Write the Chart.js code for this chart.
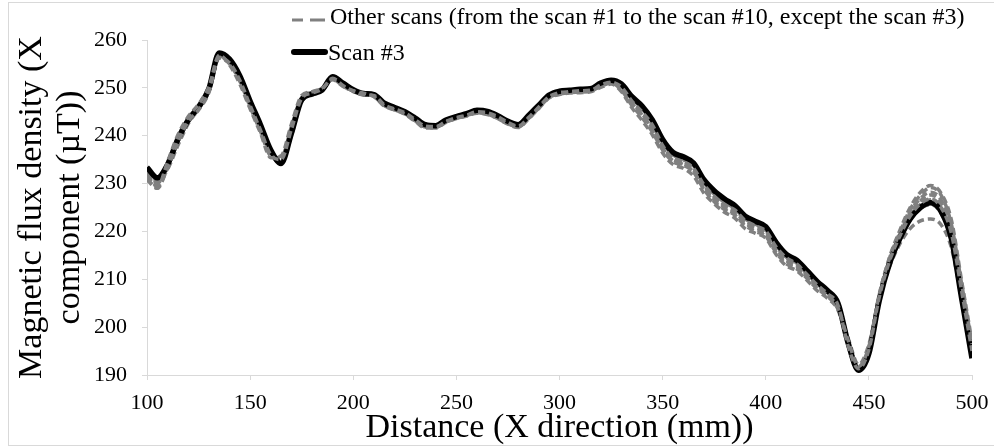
<!DOCTYPE html>
<html>
<head>
<meta charset="utf-8">
<title>Magnetic flux density scans</title>
<script src="https://cdn.jsdelivr.net/npm/chart.js@4.4.1/dist/chart.umd.min.js"></script>
<style>
  html, body { margin: 0; padding: 0; background: #fff; }
  #wrap { width: 994px; height: 448px; }
</style>
</head>
<body>
<div id="wrap"><canvas id="scanChart" width="994" height="448"></canvas></div>
<script>
// distance along the X direction (mm), one reading every 5 mm
const distance = [];
for (let d = 100; d <= 500; d += 5) distance.push(d);

const yTicks = [190, 200, 210, 220, 230, 240, 250, 260];
const xTicks = [100, 150, 200, 250, 300, 350, 400, 450, 500];

// X component of the flux density (µT)
const scan3 = [
  233.4, 231.2, 234.0, 239.3, 243.3, 246.0, 249.8, 257.3, 256.0, 252.5,
  247.2, 242.3, 237.0, 234.2, 240.5, 247.5, 248.7, 249.6, 252.3, 251.0,
  249.6, 248.8, 248.6, 246.8, 245.9, 245.0, 243.7, 242.3, 242.1, 243.3,
  244.0, 244.6, 245.3, 245.1, 244.2, 243.0, 242.3, 244.2, 246.4, 248.5,
  249.3, 249.5, 249.7, 249.8, 251.0, 251.6, 250.8, 248.2, 246.2, 243.3,
  239.2, 236.5, 235.6, 234.3, 230.8, 228.5, 226.8, 225.4, 223.2, 222.1,
  221.0, 217.7, 215.2, 214.0, 211.8, 209.5, 207.6, 205.0, 196.6, 191.0,
  194.5, 205.5, 213.3, 218.5, 222.6, 225.0, 226.0, 224.2, 218.5, 206.0,
  193.5
];
const scan1 = [
  231.8, 229.6, 233.2, 238.6, 243.0, 245.4, 249.0, 256.4, 255.2, 251.6,
  246.3, 241.2, 236.0, 235.0, 241.3, 247.8, 248.9, 249.8, 252.0, 250.5,
  249.3, 248.5, 248.4, 246.5, 245.6, 244.8, 243.4, 242.0, 241.9, 243.0,
  243.8, 244.3, 245.0, 244.8, 244.0, 242.8, 242.0, 243.8, 246.0, 248.2,
  249.0, 249.2, 249.4, 249.5, 250.6, 251.2, 250.2, 247.3, 245.0, 242.3,
  238.0, 235.2, 234.6, 233.2, 229.8, 227.4, 225.6, 224.5, 222.3, 221.2,
  220.1, 216.8, 214.5, 213.2, 211.0, 208.8, 207.0, 204.6, 196.0, 191.3,
  195.3, 206.2, 213.8, 219.0, 223.2, 225.8, 226.8, 225.0, 219.6, 207.5,
  195.0
];
const scan2 = [
  231.0, 229.2, 234.6, 240.2, 244.0, 246.6, 250.2, 256.8, 254.8, 250.8,
  245.6, 240.6, 235.4, 235.8, 242.4, 248.4, 249.2, 250.0, 251.7, 250.3,
  249.4, 248.9, 248.2, 246.2, 245.4, 244.5, 243.0, 241.6, 241.7, 242.9,
  243.6, 244.2, 244.8, 244.5, 243.6, 242.5, 241.8, 243.6, 245.8, 248.0,
  248.7, 249.0, 249.1, 249.3, 250.3, 251.0, 249.5, 246.4, 243.8, 240.8,
  237.0, 234.6, 233.8, 232.5, 229.0, 226.6, 225.0, 223.6, 221.6, 220.5,
  219.4, 216.0, 213.8, 212.6, 210.6, 208.3, 206.6, 204.0, 197.2, 191.8,
  196.0, 206.8, 214.4, 219.8, 224.6, 227.6, 229.2, 227.6, 221.5, 209.0,
  196.5
];
const scan4 = [
  232.4, 230.2, 233.0, 238.0, 242.5, 245.6, 249.2, 256.6, 255.7, 252.0,
  246.8, 241.6, 236.4, 234.2, 240.0, 247.2, 248.5, 249.4, 252.0, 250.8,
  249.5, 248.7, 248.5, 246.6, 245.7, 244.8, 243.5, 242.1, 242.0, 243.1,
  243.9, 244.4, 245.1, 244.9, 244.0, 242.8, 242.1, 244.0, 246.2, 248.3,
  249.1, 249.3, 249.5, 249.6, 250.8, 251.4, 250.5, 247.8, 245.7, 242.8,
  238.6, 236.0, 235.0, 233.7, 230.2, 227.8, 226.1, 224.8, 222.6, 221.5,
  220.3, 217.1, 214.6, 213.4, 211.2, 209.0, 207.2, 204.8, 196.2, 191.2,
  195.0, 205.8, 213.5, 218.8, 222.8, 225.2, 226.3, 224.5, 218.8, 206.8,
  194.2
];
const scan5 = [
  232.0, 230.0, 234.2, 239.6, 243.6, 246.3, 249.9, 256.8, 255.4, 251.8,
  246.5, 241.4, 236.2, 235.2, 241.6, 247.9, 249.0, 249.9, 251.9, 250.6,
  249.5, 248.6, 248.3, 246.4, 245.5, 244.6, 243.2, 241.8, 241.8, 243.0,
  243.7, 244.2, 244.9, 244.6, 243.8, 242.6, 241.9, 243.7, 245.9, 248.1,
  248.8, 249.1, 249.2, 249.4, 250.4, 251.1, 249.8, 246.8, 244.4, 241.4,
  237.4, 234.8, 234.0, 232.4, 228.8, 226.2, 224.6, 223.4, 221.2, 220.0,
  219.0, 215.6, 213.2, 212.2, 210.2, 208.0, 206.4, 203.8, 197.6, 192.2,
  196.4, 206.0, 212.6, 217.4, 220.6, 222.2, 222.6, 221.4, 216.6, 205.8,
  194.6
];
const scan6 = [
  232.8, 230.6, 233.6, 238.9, 243.1, 245.8, 249.4, 257.0, 255.8, 252.2,
  247.0, 241.8, 236.6, 234.6, 240.9, 247.6, 248.8, 249.7, 252.1, 250.9,
  249.6, 248.8, 248.5, 246.7, 245.8, 244.9, 243.6, 242.2, 242.0, 243.2,
  243.9, 244.5, 245.2, 245.0, 244.1, 242.9, 242.2, 244.1, 246.3, 248.4,
  249.2, 249.4, 249.6, 249.7, 250.9, 251.5, 250.6, 247.9, 245.8, 242.9,
  238.8, 236.2, 235.3, 233.9, 230.4, 228.0, 226.4, 225.0, 222.8, 221.7,
  220.6, 217.3, 214.9, 213.6, 211.4, 209.2, 207.4, 205.0, 196.4, 191.0,
  195.2, 206.6, 214.6, 220.2, 225.0, 228.2, 229.6, 228.0, 222.4, 209.6,
  197.0
];
const scan7 = [
  231.6, 229.4, 233.8, 239.0, 242.8, 245.6, 249.3, 256.2, 255.0, 251.4,
  246.0, 240.9, 235.8, 235.4, 241.9, 248.0, 249.0, 249.9, 251.8, 250.4,
  249.2, 248.6, 248.2, 246.3, 245.4, 244.6, 243.1, 241.8, 241.6, 242.8,
  243.6, 244.1, 244.7, 244.4, 243.6, 242.4, 241.7, 243.5, 245.7, 247.9,
  248.6, 248.9, 249.0, 249.2, 250.1, 250.8, 249.2, 245.9, 243.2, 240.2,
  236.4, 234.0, 233.2, 231.6, 228.0, 225.8, 224.0, 222.8, 220.6, 219.6,
  218.6, 215.2, 212.8, 211.8, 209.8, 207.6, 206.0, 203.6, 196.8, 191.6,
  195.6, 206.2, 213.9, 219.2, 223.6, 226.4, 227.6, 226.0, 220.4, 208.2,
  195.6
];
const scan8 = [
  232.6, 230.8, 234.4, 239.8, 243.5, 246.2, 249.8, 257.1, 255.8, 252.1,
  246.9, 241.9, 236.7, 234.4, 240.4, 247.4, 248.6, 249.5, 252.0, 250.8,
  249.5, 248.7, 248.6, 246.7, 245.8, 244.9, 243.6, 242.2, 242.0, 243.2,
  243.9, 244.5, 245.2, 245.0, 244.1, 242.9, 242.2, 244.1, 246.3, 248.4,
  249.2, 249.4, 249.6, 249.7, 250.9, 251.5, 250.6, 248.0, 245.9, 243.0,
  238.9, 236.2, 235.4, 234.0, 230.6, 228.2, 226.5, 225.1, 222.9, 221.8,
  220.7, 217.4, 215.0, 213.8, 211.6, 209.3, 207.5, 204.9, 196.5, 191.1,
  194.8, 205.4, 213.2, 218.4, 222.4, 224.8, 225.6, 223.8, 218.0, 205.6,
  193.8
];
const scan9 = [
  230.8, 229.0, 233.4, 238.8, 243.2, 245.9, 249.5, 256.5, 255.3, 251.5,
  246.2, 241.0, 235.9, 235.3, 241.8, 248.1, 249.1, 249.9, 251.9, 250.5,
  249.3, 248.6, 248.3, 246.4, 245.5, 244.7, 243.3, 241.9, 241.8, 242.9,
  243.7, 244.3, 244.9, 244.7, 243.8, 242.6, 241.9, 243.8, 246.0, 248.1,
  248.9, 249.1, 249.3, 249.4, 250.5, 251.2, 250.0, 247.0, 244.6, 241.6,
  237.6, 235.0, 234.2, 232.8, 229.4, 227.0, 225.3, 224.0, 221.9, 220.8,
  219.7, 216.4, 214.1, 212.9, 210.8, 208.6, 206.8, 204.3, 196.9, 191.5,
  195.8, 206.4, 214.0, 219.4, 224.0, 226.9, 228.2, 226.6, 220.8, 208.6,
  195.2
];
const scan10 = [
  232.2, 230.4, 233.6, 239.1, 243.4, 246.0, 249.6, 256.9, 255.6, 251.9,
  246.6, 241.5, 236.3, 234.9, 241.2, 247.7, 248.8, 249.7, 252.1, 250.7,
  249.4, 248.7, 248.4, 246.5, 245.6, 244.8, 243.4, 242.0, 241.9, 243.1,
  243.8, 244.4, 245.0, 244.8, 243.9, 242.7, 242.0, 243.9, 246.1, 248.2,
  249.0, 249.2, 249.4, 249.5, 250.7, 251.3, 250.3, 247.5, 245.2, 242.2,
  238.2, 235.6, 234.6, 233.3, 229.9, 227.5, 225.8, 224.6, 222.4, 221.3,
  220.2, 216.9, 214.4, 213.2, 211.0, 208.9, 207.1, 204.7, 196.3, 191.4,
  195.4, 206.0, 213.6, 218.9, 223.0, 225.6, 226.6, 224.9, 219.2, 207.2,
  194.8
];

const otherLabel = 'Other scans (from the scan #1 to the scan #10, except the scan #3)';
const mainLabel = 'Scan #3';

const FONT = "'Liberation Serif', 'Times New Roman', serif";
const AXIS_GREY = '#d9d9d9';

function points(vals) {
  return distance.map((d, i) => ({ x: d, y: vals[i] }));
}

function otherScan(vals) {
  return {
    label: otherLabel,
    data: points(vals),
    borderColor: '#808080',
    borderWidth: 3.5,
    borderDash: [7, 4],
    pointRadius: 0,
    cubicInterpolationMode: 'monotone',
    fill: false
  };
}

const datasets = [
  otherScan(scan1),
  otherScan(scan2),
  {
    label: mainLabel,
    data: points(scan3),
    borderColor: '#000000',
    borderWidth: 5.5,
    pointRadius: 0,
    cubicInterpolationMode: 'monotone',
    fill: false
  },
  otherScan(scan4),
  otherScan(scan5),
  otherScan(scan6),
  otherScan(scan7),
  otherScan(scan8),
  otherScan(scan9),
  otherScan(scan10)
];

// thin frame round the whole figure + the two-line legend
const frameAndLegend = {
  id: 'frameAndLegend',
  beforeDraw(chart) {
    const ctx = chart.ctx;
    ctx.save();
    ctx.fillStyle = '#ffffff';
    ctx.fillRect(0, 0, chart.width, chart.height);
    ctx.strokeStyle = AXIS_GREY;
    ctx.lineWidth = 1;
    ctx.strokeRect(8.5, 2.5, chart.width, chart.height - 5);
    ctx.restore();
  },
  afterDraw(chart) {
    const ctx = chart.ctx;
    ctx.save();
    ctx.font = '24px ' + FONT;
    ctx.fillStyle = '#000';
    ctx.textBaseline = 'middle';

    // two grey dashes
    ctx.strokeStyle = '#808080';
    ctx.lineWidth = 3;
    ctx.beginPath();
    ctx.moveTo(292, 20);
    ctx.lineTo(303, 20);
    ctx.moveTo(310, 20);
    ctx.lineTo(325, 20);
    ctx.stroke();
    ctx.fillText(otherLabel, 330, 18);

    ctx.strokeStyle = '#000';
    ctx.lineWidth = 6;
    ctx.lineCap = 'round';
    ctx.beginPath();
    ctx.moveTo(294, 52);
    ctx.lineTo(325, 52);
    ctx.stroke();
    ctx.fillText(mainLabel, 328, 54);
    ctx.restore();
  }
};

const ctx = document.getElementById('scanChart').getContext('2d');
const scanChart = new Chart(ctx, {
  type: 'line',
  data: { datasets: datasets },
  options: {
    responsive: false,
    animation: false,
    layout: { padding: { top: 40, right: 22, bottom: 0, left: 0 } },
    plugins: {
      legend: { display: false },
      tooltip: { enabled: false }
    },
    scales: {
      x: {
        type: 'linear',
        min: xTicks[0],
        max: xTicks[xTicks.length - 1],
        afterBuildTicks: scale => { scale.ticks = xTicks.map(v => ({ value: v })); },
        afterFit: scale => {
          scale.height = 73;
          scale.paddingLeft = 0;
          scale.paddingRight = 0;
        },
        border: { color: AXIS_GREY, width: 1 },
        grid: { drawOnChartArea: false, drawTicks: true, tickLength: 5, color: AXIS_GREY },
        ticks: { color: '#000', font: { family: FONT, size: 22 }, padding: 10, maxRotation: 0 },
        title: {
          display: true,
          text: 'Distance (X direction (mm))',
          color: '#000',
          font: { family: FONT, size: 34, lineHeight: 1.12 },
          padding: { top: 0, bottom: 1 }
        }
      },
      y: {
        min: yTicks[0],
        max: yTicks[yTicks.length - 1],
        afterBuildTicks: scale => { scale.ticks = yTicks.map(v => ({ value: v })); },
        afterFit: scale => {
          scale.width = 147;
          scale.paddingTop = 0;
          scale.paddingBottom = 0;
        },
        border: { color: AXIS_GREY, width: 1 },
        grid: { drawOnChartArea: false, drawTicks: true, tickLength: 5, color: AXIS_GREY },
        ticks: { color: '#000', font: { family: FONT, size: 22 }, padding: 15 },
        title: {
          display: true,
          text: ['Magnetic flux density (X', 'component (µT))'],
          color: '#000',
          font: { family: FONT, size: 34, lineHeight: 1.12 },
          padding: { top: 13, bottom: 0 }
        }
      }
    }
  },
  plugins: [frameAndLegend]
});
</script>
</body>
</html>
